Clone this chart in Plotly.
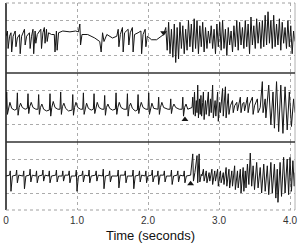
import plotly.graph_objects as go
from plotly.subplots import make_subplots

TICK_VALS = [0, 1, 2, 3, 4]
TICK_TEXT = ["0", "1.0", "2.0", "3.0", "4.0"]
X_TITLE = "Time (seconds)"

# ---- top trace (time in s, amplitude in panel units) ----
TOP_T = [0.00, 0.02, 0.03, 0.05, 0.07, 0.08, 0.10, 0.13, 0.14, 0.16,
         0.19, 0.20, 0.22, 0.26, 0.27, 0.29, 0.33, 0.34, 0.36, 0.38,
         0.39, 0.41, 0.42, 0.44, 0.49, 0.50, 0.52, 0.54, 0.55, 0.57,
         0.58, 0.60, 0.64, 0.68, 0.69, 0.71, 0.72, 0.74, 0.80, 0.90,
         0.98, 1.02, 1.04, 1.05, 1.07, 1.15, 1.25, 1.32, 1.34, 1.36,
         1.38, 1.42, 1.50, 1.56, 1.58, 1.59, 1.61, 1.64, 1.65, 1.67,
         1.72, 1.73, 1.75, 1.78, 1.79, 1.81, 1.86, 1.90, 1.91, 1.93,
         1.96, 1.97, 1.99, 2.05, 2.12, 2.18, 2.22, 2.25, 2.27, 2.29,
         2.31, 2.33, 2.35, 2.37, 2.39, 2.41, 2.43, 2.45, 2.47, 2.49,
         2.51, 2.53, 2.55, 2.57, 2.59, 2.61, 2.63, 2.65, 2.67, 2.69,
         2.71, 2.73, 2.75, 2.77, 2.79, 2.81, 2.83, 2.85, 2.87, 2.89,
         2.91, 2.93, 2.95, 2.97, 2.99, 3.01, 3.03, 3.05, 3.07, 3.09,
         3.11, 3.13, 3.15, 3.17, 3.19, 3.21, 3.23, 3.25, 3.27, 3.29,
         3.31, 3.33, 3.35, 3.37, 3.39, 3.41, 3.43, 3.45, 3.47, 3.49,
         3.51, 3.53, 3.55, 3.57, 3.59, 3.61, 3.63, 3.65, 3.67, 3.69,
         3.71, 3.73, 3.75, 3.77, 3.79, 3.81, 3.83, 3.85, 3.87, 3.89,
         3.91, 3.93, 3.95, 3.97, 3.99, 4.01, 4.03, 4.05, 4.07]
TOP_V = [0.1, 0.4, -0.6, 0.1, 0.3, -0.8, 0.1, 0.4, -0.5, 0.0,
         0.2, -0.9, 0.1, 0.5, -0.4, 0.1, 0.3, -0.6, 0.1, 0.5,
         -0.9, 0.4, -0.3, 0.2, 0.5, -0.6, 0.3, 0.6, -0.3, 0.5,
         -0.2, 0.3, 0.2, 0.2, -0.8, 0.4, -0.7, 0.3, 0.4, 0.35,
         0.4, 0.35, 0.8, -0.4, 0.2, 0.2, 0.0, -0.2, -0.8, 0.3,
         -0.2, 0.2, 0.0, 0.1, 0.5, -0.5, 0.2, 0.6, -0.8, 0.3,
         0.5, -0.4, 0.3, 0.6, -0.8, 0.2, 0.3, 0.4, -0.9, 0.2,
         0.5, -0.5, 0.1, -0.1, -0.1, 0.1, 0.2, 0.6, -0.7, 0.9,
         -0.9, 0.5, -1.1, 0.8, -1.4, 0.6, -1.2, 0.9, -0.6, 0.7,
         -0.9, 0.5, -0.7, 1.0, -0.5, 0.8, -0.8, 1.1, -0.6, 1.0,
         -0.9, 0.7, -0.5, 0.9, -0.8, 0.6, -0.6, 0.4, -0.3, 0.7,
         -0.6, 0.5, -0.9, 0.8, -0.5, 0.9, -0.7, 1.0, -0.6, 0.5,
         -1.0, 0.6, -0.4, 0.4, -0.8, 0.7, -0.5, 1.0, -0.7, 0.9,
         -0.4, 0.6, -0.6, 1.0, -0.5, 0.8, -0.9, 1.2, -0.4, 0.7,
         -0.6, 1.1, -0.3, 0.9, -0.6, 1.0, -0.5, 1.3, -0.4, 1.5,
         -0.3, 1.0, -0.6, 1.3, -0.5, 0.8, -0.4, 1.1, -0.7, 0.9,
         -0.3, 0.6, -0.6, 1.0, -0.5, 0.7, -0.9, 0.4, -0.2]

# ---- middle trace ----
MID_T = [0.000, 0.010, 0.020, 0.035, 0.055, 0.080, 0.120,
         0.150, 0.160, 0.170, 0.185, 0.205, 0.230, 0.270,
         0.300, 0.310, 0.320, 0.335, 0.355, 0.380, 0.420,
         0.450, 0.460, 0.470, 0.485, 0.505, 0.530, 0.570,
         0.610, 0.620, 0.630, 0.645, 0.665, 0.690, 0.730,
         0.760, 0.770, 0.780, 0.795, 0.815, 0.840, 0.880,
         0.930, 0.940, 0.950, 0.965, 0.985, 1.010, 1.050,
         1.080, 1.090, 1.100, 1.115, 1.135, 1.160, 1.200,
         1.230, 1.240, 1.250, 1.265, 1.285, 1.310, 1.350,
         1.380, 1.390, 1.400, 1.415, 1.435, 1.460, 1.500,
         1.540, 1.550, 1.560, 1.575, 1.595, 1.620, 1.660,
         1.700, 1.710, 1.720, 1.735, 1.755, 1.780, 1.820,
         1.850, 1.860, 1.870, 1.885, 1.905, 1.930, 1.970,
         2.000, 2.010, 2.020, 2.035, 2.055, 2.080, 2.120,
         2.140, 2.150, 2.160, 2.175, 2.195, 2.220, 2.280,
         2.310, 2.320, 2.330, 2.345, 2.365, 2.390, 2.440,
         2.480, 2.490, 2.500, 2.515, 2.535, 2.560, 2.600,
         2.620, 2.630, 2.640, 2.655, 2.665, 2.680, 2.690, 2.700, 2.710, 2.725,
         2.735, 2.745, 2.755, 2.770, 2.780, 2.790, 2.810, 2.820, 2.850, 2.860,
         2.880, 2.890, 2.910, 2.920, 2.945, 2.955, 2.980, 2.990, 3.010, 3.020,
         3.050, 3.060, 3.090, 3.100, 3.130, 3.140, 3.160,
         3.190, 3.200, 3.220, 3.250, 3.260, 3.300, 3.310, 3.330, 3.350, 3.360,
         3.400, 3.410, 3.430, 3.470, 3.480, 3.500, 3.540, 3.550, 3.580,
         3.610, 3.620, 3.650, 3.660, 3.700, 3.730, 3.760, 3.780, 3.810, 3.840,
         3.870, 3.900, 3.930, 3.960, 3.990, 4.020, 4.050, 4.070]
MID_V = [-0.1, 0.9, -0.4, 0.0, 0.3, -0.05, -0.15,
         -0.1, 0.85, -0.45, 0.0, 0.25, 0.0, -0.1,
         -0.05, 0.8, -0.35, 0.05, 0.3, 0.0, -0.1,
         -0.1, 0.75, -0.4, 0.0, 0.2, -0.1, -0.2,
         -0.15, 0.8, -0.5, 0.0, 0.35, 0.0, -0.1,
         -0.1, 0.9, -0.4, 0.05, 0.25, -0.05, -0.2,
         -0.15, 0.75, -0.45, 0.0, 0.3, 0.0, -0.1,
         -0.1, 0.85, -0.4, 0.0, 0.25, -0.05, -0.15,
         -0.1, 0.8, -0.35, 0.05, 0.3, 0.0, -0.1,
         -0.1, 0.7, -0.45, 0.0, 0.2, -0.05, -0.15,
         -0.1, 0.85, -0.4, 0.0, 0.3, 0.0, -0.1,
         -0.1, 0.8, -0.5, 0.05, 0.25, -0.05, -0.2,
         -0.15, 0.75, -0.35, 0.0, 0.3, 0.0, -0.1,
         -0.1, 0.85, -0.4, 0.0, 0.25, -0.05, -0.1,
         -0.1, 0.6, -0.4, 0.0, 0.3, 0.0, -0.1,
         -0.1, 0.5, -0.35, 0.0, 0.2, 0.0, -0.1,
         -0.1, 0.6, -0.5, 0.0, 0.2, -0.1, 0.0,
         0.0, 0.6, -0.4, 0.9, -0.5, 0.4, -0.3, 1.3, -0.6, 0.5,
         -0.4, 0.7, -0.5, 0.3, 0.9, -0.7, 0.4, -0.4, 0.9, -0.5,
         0.5, -0.3, 1.3, -0.6, 0.4, -0.5, 0.9, -0.8, 0.3, -0.3,
         1.1, -0.5, 1.2, -0.6, 0.8, -0.4, 0.1,
         0.4, -0.3, 0.1, 0.3, -0.2, 0.6, -0.3, 0.2, 0.3, -0.2,
         0.6, -0.3, 0.2, 0.6, -0.4, 0.1, 0.5, -0.3, 0.0,
         1.5, -0.3, 0.5, -0.6, 1.3, -1.0, 0.9, -1.2, 1.5, -1.4,
         1.3, -1.5, 1.2, -1.3, 0.9, -1.1, 0.5, -0.3]

# ---- bottom trace ----
BOT_T = [0.00,
         0.05, 0.06, 0.07, 0.09, 0.14, 0.15, 0.16, 0.18,
         0.24, 0.25, 0.26, 0.28, 0.33, 0.34, 0.35, 0.37,
         0.42, 0.43, 0.44, 0.46, 0.51, 0.52, 0.53, 0.55,
         0.60, 0.61, 0.62, 0.64, 0.70, 0.71, 0.72, 0.74,
         0.79, 0.80, 0.81, 0.83, 0.88, 0.89, 0.90, 0.92,
         0.98, 0.99, 1.00, 1.02, 1.07, 1.08, 1.09, 1.11,
         1.16, 1.17, 1.18, 1.20, 1.26, 1.27, 1.28, 1.30,
         1.36, 1.37, 1.38, 1.40, 1.45, 1.46, 1.47, 1.49,
         1.57, 1.58, 1.59, 1.61, 1.67, 1.68, 1.69, 1.71,
         1.78, 1.79, 1.80, 1.82, 1.87, 1.88, 1.89, 1.91,
         1.96, 1.97, 1.98, 2.00, 2.05, 2.06, 2.07, 2.09,
         2.13, 2.14, 2.15, 2.17, 2.22, 2.23, 2.24, 2.26,
         2.32, 2.33, 2.34, 2.36, 2.41, 2.42, 2.43, 2.45,
         2.50, 2.51, 2.52, 2.54,
         2.60, 2.63, 2.64, 2.66, 2.69, 2.70, 2.72, 2.73, 2.75,
         2.76, 2.78, 2.79, 2.82, 2.83, 2.86, 2.87, 2.90, 2.91, 2.94,
         2.95, 2.98, 2.99, 3.02, 3.03, 3.06, 3.07, 3.10, 3.11, 3.14,
         3.15, 3.18, 3.19, 3.22, 3.23, 3.26, 3.27, 3.30, 3.31, 3.34,
         3.35, 3.37, 3.38,
         3.40, 3.42, 3.44, 3.46, 3.48, 3.50, 3.53, 3.55, 3.58, 3.60,
         3.63, 3.65, 3.68, 3.70, 3.73, 3.75, 3.78, 3.80, 3.82, 3.83,
         3.86, 3.88, 3.91, 3.93, 3.96, 3.98, 4.00, 4.02, 4.04, 4.06, 4.07]
BOT_V = [0.0,
         0.05, 0.3, -0.9, 0.0, 0.05, 0.35, -0.4, 0.05,
         0.0, 0.3, -0.75, 0.0, 0.05, 0.4, -0.35, 0.05,
         0.0, 0.3, -0.4, 0.0, 0.05, 0.35, -0.3, 0.05,
         0.0, 0.3, -0.4, 0.0, 0.05, 0.35, -0.35, 0.0,
         0.0, 0.3, -0.3, 0.05, 0.05, 0.3, -0.4, 0.0,
         0.0, 0.35, -0.9, 0.0, 0.05, 0.3, -0.35, 0.05,
         0.0, 0.35, -0.4, 0.0, 0.05, 0.3, -0.3, 0.05,
         0.0, 0.4, -0.75, 0.0, 0.05, 0.3, -0.35, 0.0,
         0.0, 0.35, -0.7, 0.05, 0.05, 0.3, -0.4, 0.0,
         0.0, 0.35, -0.75, 0.0, 0.05, 0.3, -0.35, 0.05,
         0.0, 0.3, -0.4, 0.0, 0.05, 0.35, -0.35, 0.0,
         0.0, 0.3, -0.5, 0.05, 0.05, 0.3, -0.35, 0.0,
         0.0, 0.35, -0.5, 0.0, 0.05, 0.3, -0.35, 0.05,
         0.0, 0.3, -0.4, 0.0,
         0.05, 1.3, -0.3, 0.2, 1.2, -0.4, 1.3, -0.35, 0.1,
         0.0, 0.4, -0.3, 0.3, -0.4, 0.2, -0.3, 0.4, -0.5, 0.3,
         -0.3, 0.4, -0.6, 0.3, -0.4, 0.2, -0.5, 0.5, -0.6, 0.4,
         -0.7, 0.3, -0.6, 0.6, -0.8, 0.3, -0.7, 0.4, -1.0, 0.5,
         -0.9, 0.3, -0.7,
         0.7, -0.5, 1.35, -0.6, 0.6, -0.8, 0.8, -0.7, 0.5, -1.0,
         0.7, -0.9, 0.6, -1.1, 0.8, -1.0, 0.7, -1.3, 0.4, -1.55,
         0.8, -1.2, 1.1, -1.0, 1.0, -1.1, 1.1, -0.9, 0.9, -0.6, 0.2]

# ---- arrowhead markers ----
ARROW_T = [2.22, 2.52, 2.60]
ARROW_V = [0.3, -0.7, -0.45]
ARROW_SYMBOL = ["triangle-down", "triangle-up", "triangle-up"]

FONT = "Liberation Sans, Arial, Helvetica, sans-serif"
INK = "#151515"
GRID = "#ababab"

fig = make_subplots(rows=3, cols=1, shared_xaxes=True, vertical_spacing=0,
                    row_heights=[70, 69, 68])

series = [(TOP_T, TOP_V), (MID_T, MID_V), (BOT_T, BOT_V)]
for i, (t, v) in enumerate(series):
    fig.add_trace(go.Scatter(x=t, y=v, mode="lines",
                             line=dict(color=INK, width=1),
                             hoverinfo="skip", showlegend=False),
                  row=i + 1, col=1)
    fig.add_trace(go.Scatter(x=[ARROW_T[i]], y=[ARROW_V[i]], mode="markers",
                             marker=dict(symbol=ARROW_SYMBOL[i], size=6, color=INK),
                             hoverinfo="skip", showlegend=False),
                  row=i + 1, col=1)

fig.update_xaxes(range=[0, 4.07], tickvals=TICK_VALS, ticktext=TICK_TEXT,
                 showgrid=True, gridcolor=GRID, griddash="dot", gridwidth=1,
                 zeroline=False, showline=False, ticks="")
fig.update_xaxes(showticklabels=True, ticklabelstandoff=3,
                 tickfont=dict(family=FONT, size=10, color="#333"),
                 title=dict(text=X_TITLE, font=dict(family=FONT, size=13, color="#111"),
                            standoff=5),
                 row=3, col=1)
fig.update_yaxes(range=[-2, 2], tickvals=[-1, 1], showticklabels=False,
                 showgrid=True, gridcolor=GRID, griddash="dot", gridwidth=1,
                 zeroline=False, showline=False, ticks="")

d3 = fig.layout.yaxis3.domain
d2 = fig.layout.yaxis2.domain
shapes = [
    dict(type="line", xref="paper", yref="paper", x0=0, x1=0, y0=0, y1=1,
         line=dict(color=INK, width=1.5)),
    dict(type="line", xref="paper", yref="paper", x0=1, x1=1, y0=0, y1=1,
         line=dict(color="#b0b0b0", width=1)),
    dict(type="line", xref="paper", yref="paper", x0=0, x1=1, y0=1, y1=1,
         line=dict(color="#a0a0a0", width=1, dash="dot")),
    dict(type="line", xref="paper", yref="paper", x0=0, x1=1, y0=0, y1=0,
         line=dict(color="#a0a0a0", width=1, dash="dot")),
    dict(type="line", xref="paper", yref="paper", x0=0, x1=1, y0=d2[1], y1=d2[1],
         line=dict(color="#333", width=1.3)),
    dict(type="line", xref="paper", yref="paper", x0=0, x1=1, y0=d3[1], y1=d3[1],
         line=dict(color="#333", width=1.3)),
]

fig.update_layout(width=300, height=246,
                  margin=dict(l=4, r=5, t=3, b=36),
                  paper_bgcolor="white", plot_bgcolor="white",
                  shapes=shapes, showlegend=False,
                  font=dict(family=FONT))

fig.write_html("out.html")
